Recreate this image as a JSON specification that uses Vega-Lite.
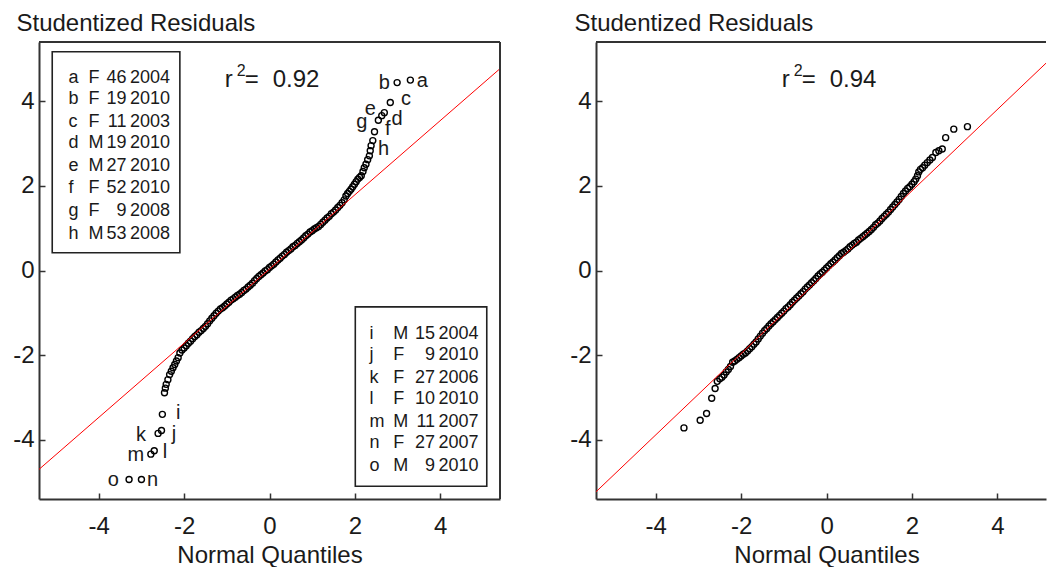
{
  "$schema": "https://vega.github.io/schema/vega-lite/v6.json",
  "background": "white",
  "padding": {"left": 12, "top": 11, "right": 0, "bottom": 0},
  "config": {
    "font": "Liberation Sans",
    "view": {"stroke": null},
    "axis": {
      "grid": false,
      "domainColor": "#333333",
      "domainWidth": 2,
      "tickColor": "#333333",
      "tickWidth": 1.5,
      "tickSize": -6,
      "labelFont": "Liberation Sans",
      "labelFontSize": 24,
      "labelColor": "#1a1a1a",
      "labelExpr": "datum.value < 0 ? '-' + (-datum.value) : '' + datum.value",
      "titleFont": "Liberation Sans",
      "titleFontSize": 24,
      "titleFontWeight": "normal",
      "titleColor": "#1a1a1a"
    },
    "text": {"font": "Liberation Sans", "color": "#1a1a1a"}
  },
  "datasets": {
    "ptsL": [
      {"q":-3.29,"r":-4.94},{"q":-3.0,"r":-4.94},{"q":-2.78,"r":-4.34},{"q":-2.7,"r":-4.26},{"q":-2.61,"r":-3.85},{"q":-2.53,"r":-3.78},{"q":-2.51,"r":-3.4},
      {"q":-2.46,"r":-2.89},{"q":-2.44,"r":-2.78},{"q":-2.42,"r":-2.69},{"q":-2.38,"r":-2.58},{"q":-2.34,"r":-2.46},{"q":-2.3,"r":-2.38},{"q":-2.26,"r":-2.3},{"q":-2.22,"r":-2.22},{"q":-2.18,"r":-2.14},{"q":-2.14,"r":-2.06},
      {"q":-2.1,"r":-1.95},{"q":-2.05,"r":-1.88},{"q":-2.0,"r":-1.83},{"q":-1.95,"r":-1.78},{"q":-1.9,"r":-1.72},{"q":-1.85,"r":-1.67},{"q":-1.8,"r":-1.61},{"q":-1.75,"r":-1.56},{"q":-1.7,"r":-1.52},{"q":-1.65,"r":-1.46},
      {"q":-1.6,"r":-1.42},{"q":-1.55,"r":-1.37},{"q":-1.5,"r":-1.32},{"q":-1.45,"r":-1.26},{"q":-1.4,"r":-1.19},{"q":-1.35,"r":-1.13},{"q":-1.3,"r":-1.07},{"q":-1.25,"r":-1.01},{"q":-1.2,"r":-0.96},{"q":-1.15,"r":-0.91},
      {"q":-1.1,"r":-0.88},{"q":-1.05,"r":-0.84},{"q":-1.0,"r":-0.79},{"q":-0.95,"r":-0.75},{"q":-0.9,"r":-0.7},{"q":-0.85,"r":-0.67},{"q":-0.8,"r":-0.63},{"q":-0.75,"r":-0.59},{"q":-0.7,"r":-0.56},{"q":-0.65,"r":-0.52},
      {"q":-0.6,"r":-0.47},{"q":-0.55,"r":-0.44},{"q":-0.5,"r":-0.39},{"q":-0.45,"r":-0.35},{"q":-0.4,"r":-0.3},{"q":-0.35,"r":-0.24},{"q":-0.3,"r":-0.19},{"q":-0.25,"r":-0.14},{"q":-0.2,"r":-0.1},{"q":-0.15,"r":-0.06},
      {"q":-0.1,"r":-0.01},{"q":-0.05,"r":0.02},{"q":0.0,"r":0.07},{"q":0.05,"r":0.11},{"q":0.1,"r":0.15},{"q":0.15,"r":0.2},{"q":0.2,"r":0.25},{"q":0.25,"r":0.29},{"q":0.3,"r":0.34},{"q":0.35,"r":0.38},
      {"q":0.4,"r":0.43},{"q":0.45,"r":0.47},{"q":0.5,"r":0.51},{"q":0.55,"r":0.56},{"q":0.6,"r":0.59},{"q":0.65,"r":0.64},{"q":0.7,"r":0.68},{"q":0.75,"r":0.72},{"q":0.8,"r":0.77},{"q":0.85,"r":0.82},
      {"q":0.9,"r":0.86},{"q":0.95,"r":0.91},{"q":1.0,"r":0.94},{"q":1.05,"r":0.98},{"q":1.1,"r":1.01},{"q":1.15,"r":1.04},{"q":1.2,"r":1.09},{"q":1.25,"r":1.14},{"q":1.3,"r":1.19},{"q":1.35,"r":1.24},
      {"q":1.4,"r":1.28},{"q":1.45,"r":1.34},{"q":1.5,"r":1.38},{"q":1.55,"r":1.43},{"q":1.6,"r":1.49},{"q":1.65,"r":1.54},{"q":1.7,"r":1.6},{"q":1.75,"r":1.67},
      {"q":1.79,"r":1.76},{"q":1.83,"r":1.82},{"q":1.87,"r":1.87},{"q":1.91,"r":1.92},{"q":1.95,"r":1.98},{"q":1.99,"r":2.04},{"q":2.03,"r":2.1},{"q":2.07,"r":2.16},{"q":2.11,"r":2.2},{"q":2.15,"r":2.24},
      {"q":2.19,"r":2.34},{"q":2.22,"r":2.43},{"q":2.26,"r":2.51},{"q":2.3,"r":2.62},{"q":2.34,"r":2.71},{"q":2.36,"r":2.83},{"q":2.38,"r":2.95},{"q":2.42,"r":3.07},{"q":2.46,"r":3.28},{"q":2.55,"r":3.55},
      {"q":2.63,"r":3.66},{"q":2.69,"r":3.73},{"q":2.83,"r":3.97},{"q":2.99,"r":4.44},{"q":3.3,"r":4.5}
    ],
    "ptsR": [
      {"q":-3.34,"r":-3.72},{"q":-2.96,"r":-3.54},{"q":-2.81,"r":-3.38},{"q":-2.69,"r":-3.02},{"q":-2.61,"r":-2.79},{"q":-2.56,"r":-2.62},{"q":-2.5,"r":-2.56},{"q":-2.45,"r":-2.52},{"q":-2.4,"r":-2.47},{"q":-2.35,"r":-2.4},{"q":-2.3,"r":-2.34},{"q":-2.25,"r":-2.27},
      {"q":-2.2,"r":-2.17},{"q":-2.15,"r":-2.14},{"q":-2.1,"r":-2.1},{"q":-2.05,"r":-2.06},{"q":-2.0,"r":-2.02},{"q":-1.95,"r":-1.98},{"q":-1.9,"r":-1.95},{"q":-1.85,"r":-1.9},{"q":-1.8,"r":-1.85},{"q":-1.75,"r":-1.8},
      {"q":-1.7,"r":-1.74},{"q":-1.65,"r":-1.69},{"q":-1.6,"r":-1.62},{"q":-1.55,"r":-1.55},{"q":-1.5,"r":-1.48},{"q":-1.45,"r":-1.42},{"q":-1.4,"r":-1.37},{"q":-1.35,"r":-1.31},{"q":-1.3,"r":-1.26},{"q":-1.25,"r":-1.21},
      {"q":-1.2,"r":-1.16},{"q":-1.15,"r":-1.11},{"q":-1.1,"r":-1.06},{"q":-1.05,"r":-1.01},{"q":-1.0,"r":-0.96},{"q":-0.95,"r":-0.9},{"q":-0.9,"r":-0.86},{"q":-0.85,"r":-0.81},{"q":-0.8,"r":-0.75},{"q":-0.75,"r":-0.7},
      {"q":-0.7,"r":-0.65},{"q":-0.65,"r":-0.6},{"q":-0.6,"r":-0.55},{"q":-0.55,"r":-0.5},{"q":-0.5,"r":-0.44},{"q":-0.45,"r":-0.39},{"q":-0.4,"r":-0.34},{"q":-0.35,"r":-0.29},{"q":-0.3,"r":-0.24},{"q":-0.25,"r":-0.19},
      {"q":-0.2,"r":-0.13},{"q":-0.15,"r":-0.08},{"q":-0.1,"r":-0.04},{"q":-0.05,"r":0.01},{"q":0.0,"r":0.06},{"q":0.05,"r":0.11},{"q":0.1,"r":0.16},{"q":0.15,"r":0.2},{"q":0.2,"r":0.25},{"q":0.25,"r":0.3},
      {"q":0.3,"r":0.35},{"q":0.35,"r":0.4},{"q":0.4,"r":0.43},{"q":0.45,"r":0.47},{"q":0.5,"r":0.51},{"q":0.55,"r":0.56},{"q":0.6,"r":0.6},{"q":0.65,"r":0.64},{"q":0.7,"r":0.67},{"q":0.75,"r":0.72},
      {"q":0.8,"r":0.76},{"q":0.85,"r":0.8},{"q":0.9,"r":0.84},{"q":0.95,"r":0.88},{"q":1.0,"r":0.92},{"q":1.05,"r":0.97},{"q":1.1,"r":1.02},{"q":1.15,"r":1.08},{"q":1.2,"r":1.12},{"q":1.25,"r":1.17},
      {"q":1.3,"r":1.23},{"q":1.35,"r":1.28},{"q":1.4,"r":1.33},{"q":1.45,"r":1.38},{"q":1.5,"r":1.44},{"q":1.55,"r":1.5},{"q":1.6,"r":1.56},{"q":1.65,"r":1.62},{"q":1.7,"r":1.68},{"q":1.75,"r":1.75},
      {"q":1.8,"r":1.82},{"q":1.85,"r":1.88},{"q":1.9,"r":1.94},{"q":1.95,"r":1.98},{"q":2.0,"r":2.04},
      {"q":2.05,"r":2.1},{"q":2.09,"r":2.16},{"q":2.13,"r":2.24},{"q":2.16,"r":2.33},{"q":2.2,"r":2.39},{"q":2.25,"r":2.43},{"q":2.3,"r":2.49},{"q":2.36,"r":2.55},{"q":2.42,"r":2.61},{"q":2.48,"r":2.67},
      {"q":2.56,"r":2.79},{"q":2.63,"r":2.83},{"q":2.71,"r":2.87},{"q":2.79,"r":3.14},{"q":2.98,"r":3.34},{"q":3.3,"r":3.4}
    ],
    "fitL": [{"q":-5.4,"r":-4.7},{"q":5.4,"r":4.77}],
    "fitR": [{"q":-5.4,"r":-5.23},{"q":5.14,"r":4.9}],
    "annL": [{"q":-1.05,"r":4.34,"stat":"0.92"}],
    "annR": [{"q":-1.05,"r":4.34,"stat":"0.94"}],
    "labL": [
      {"id":"a","q":3.58,"r":4.47},{"id":"b","q":2.69,"r":4.42},{"id":"c","q":3.2,"r":4.05},{"id":"d","q":2.99,"r":3.57},
      {"id":"e","q":2.36,"r":3.82},{"id":"f","q":2.77,"r":3.35},{"id":"g","q":2.16,"r":3.5},{"id":"h","q":2.67,"r":2.86},
      {"id":"i","q":-2.14,"r":-3.37},{"id":"j","q":-2.24,"r":-3.86},{"id":"k","q":-3.01,"r":-3.88},{"id":"l","q":-2.45,"r":-4.29},
      {"id":"m","q":-3.13,"r":-4.37},{"id":"n","q":-2.74,"r":-4.96},{"id":"o","q":-3.66,"r":-4.96}
    ],
    "boxes": [
      {"q":-5.09,"q2":-2.1,"r":5.17,"r2":0.42},
      {"q":2.01,"q2":5.09,"r":-0.86,"r2":-5.1}
    ],
    "legA": [
      {"id":"a","sex":"F","age":"46","year":"2004","r":4.54},
      {"id":"b","sex":"F","age":"19","year":"2010","r":4.05},
      {"id":"c","sex":"F","age":"11","year":"2003","r":3.52},
      {"id":"d","sex":"M","age":"19","year":"2010","r":3.02},
      {"id":"e","sex":"M","age":"27","year":"2010","r":2.47},
      {"id":"f","sex":"F","age":"52","year":"2010","r":1.96},
      {"id":"g","sex":"F","age":"9","year":"2008","r":1.41},
      {"id":"h","sex":"M","age":"53","year":"2008","r":0.87}
    ],
    "legB": [
      {"id":"i","sex":"M","age":"15","year":"2004","r":-1.5},
      {"id":"j","sex":"F","age":"9","year":"2010","r":-1.99},
      {"id":"k","sex":"F","age":"27","year":"2006","r":-2.53},
      {"id":"l","sex":"F","age":"10","year":"2010","r":-3.04},
      {"id":"m","sex":"M","age":"11","year":"2007","r":-3.57},
      {"id":"n","sex":"F","age":"27","year":"2007","r":-4.08},
      {"id":"o","sex":"M","age":"9","year":"2010","r":-4.61}
    ]
  },
  "spacing": 96,
  "bounds": "flush",
  "hconcat": [
    {
      "width": 461,
      "height": 457,
      "layer": [
        {
          "data": {"name": "ptsL"},
          "mark": {"type": "point", "shape": "circle", "filled": false, "color": "#000000", "size": 36, "strokeWidth": 1.4, "opacity": 1},
          "encoding": {
            "x": {"field": "q", "type": "quantitative", "scale": {"domain": [-5.4, 5.4], "nice": false, "zero": false},
                  "axis": {"values": [-4, -2, 0, 2, 4], "title": "Normal Quantiles", "labelPadding": 21, "titleY": 63, "titleBaseline": "alphabetic"}},
            "y": {"field": "r", "type": "quantitative", "scale": {"domain": [-5.4, 5.4], "nice": false, "zero": false},
                  "axis": {"values": [-4, -2, 0, 2, 4], "title": "Studentized Residuals", "labelPadding": 11, "titleAngle": 0, "titleX": -23, "titleY": -12, "titleAlign": "left", "titleBaseline": "alphabetic"}}
          }
        },
        {
          "data": {"name": "fitL"},
          "mark": {"type": "line", "color": "#ff0000", "strokeWidth": 1, "clip": true},
          "encoding": {"x": {"field": "q", "type": "quantitative"}, "y": {"field": "r", "type": "quantitative"}}
        },
        {
          "data": {"name": "boxes"},
          "mark": {"type": "rect", "fillOpacity": 0, "stroke": "#222222", "strokeWidth": 1.6},
          "encoding": {"x": {"field": "q", "type": "quantitative"}, "x2": {"field": "q2"}, "y": {"field": "r", "type": "quantitative"}, "y2": {"field": "r2"}}
        },
        {
          "data": {"name": "legA"},
          "mark": {"type": "text", "fontSize": 18, "align": "left", "baseline": "middle"},
          "encoding": {"x": {"datum": -4.71}, "y": {"field": "r", "type": "quantitative"}, "text": {"field": "id"}}
        },
        {
          "data": {"name": "legA"},
          "mark": {"type": "text", "fontSize": 18, "align": "left", "baseline": "middle"},
          "encoding": {"x": {"datum": -4.24}, "y": {"field": "r", "type": "quantitative"}, "text": {"field": "sex"}}
        },
        {
          "data": {"name": "legA"},
          "mark": {"type": "text", "fontSize": 18, "align": "right", "baseline": "middle"},
          "encoding": {"x": {"datum": -3.35}, "y": {"field": "r", "type": "quantitative"}, "text": {"field": "age"}}
        },
        {
          "data": {"name": "legA"},
          "mark": {"type": "text", "fontSize": 18, "align": "left", "baseline": "middle"},
          "encoding": {"x": {"datum": -3.27}, "y": {"field": "r", "type": "quantitative"}, "text": {"field": "year"}}
        },
        {
          "data": {"name": "legB"},
          "mark": {"type": "text", "fontSize": 18, "align": "left", "baseline": "middle"},
          "encoding": {"x": {"datum": 2.34}, "y": {"field": "r", "type": "quantitative"}, "text": {"field": "id"}}
        },
        {
          "data": {"name": "legB"},
          "mark": {"type": "text", "fontSize": 18, "align": "left", "baseline": "middle"},
          "encoding": {"x": {"datum": 2.9}, "y": {"field": "r", "type": "quantitative"}, "text": {"field": "sex"}}
        },
        {
          "data": {"name": "legB"},
          "mark": {"type": "text", "fontSize": 18, "align": "right", "baseline": "middle"},
          "encoding": {"x": {"datum": 3.88}, "y": {"field": "r", "type": "quantitative"}, "text": {"field": "age"}}
        },
        {
          "data": {"name": "legB"},
          "mark": {"type": "text", "fontSize": 18, "align": "left", "baseline": "middle"},
          "encoding": {"x": {"datum": 3.96}, "y": {"field": "r", "type": "quantitative"}, "text": {"field": "year"}}
        },
        {
          "data": {"name": "labL"},
          "mark": {"type": "text", "fontSize": 20, "align": "center", "baseline": "middle"},
          "encoding": {"x": {"field": "q", "type": "quantitative"}, "y": {"field": "r", "type": "quantitative"}, "text": {"field": "id"}}
        },
        {
          "data": {"name": "annL"},
          "mark": {"type": "text", "fontSize": 24, "align": "left", "baseline": "alphabetic"},
          "encoding": {"x": {"field": "q", "type": "quantitative"}, "y": {"field": "r", "type": "quantitative"}, "text": {"value": "r"}}
        },
        {
          "data": {"name": "annL"},
          "mark": {"type": "text", "fontSize": 16, "align": "left", "baseline": "alphabetic", "dx": 12, "dy": -11},
          "encoding": {"x": {"field": "q", "type": "quantitative"}, "y": {"field": "r", "type": "quantitative"}, "text": {"value": "2"}}
        },
        {
          "data": {"name": "annL"},
          "mark": {"type": "text", "fontSize": 24, "align": "left", "baseline": "alphabetic", "dx": 20},
          "encoding": {"x": {"field": "q", "type": "quantitative"}, "y": {"field": "r", "type": "quantitative"}, "text": {"value": "="}}
        },
        {
          "data": {"name": "annL"},
          "mark": {"type": "text", "fontSize": 24, "align": "left", "baseline": "alphabetic", "dx": 48},
          "encoding": {"x": {"field": "q", "type": "quantitative"}, "y": {"field": "r", "type": "quantitative"}, "text": {"field": "stat"}}
        },
        {
          "data": {"values": [{}]},
          "mark": {"type": "rule", "color": "#333333", "strokeWidth": 2},
          "encoding": {"y": {"datum": 5.4}}
        },
        {
          "data": {"values": [{}]},
          "mark": {"type": "rule", "color": "#333333", "strokeWidth": 2},
          "encoding": {"x": {"datum": 5.4}}
        }
      ]
    },
    {
      "width": 450,
      "height": 457,
      "layer": [
        {
          "data": {"name": "ptsR"},
          "mark": {"type": "point", "shape": "circle", "filled": false, "color": "#000000", "size": 36, "strokeWidth": 1.4, "opacity": 1},
          "encoding": {
            "x": {"field": "q", "type": "quantitative", "scale": {"domain": [-5.4, 5.14], "nice": false, "zero": false},
                  "axis": {"values": [-4, -2, 0, 2, 4], "title": "Normal Quantiles", "labelPadding": 21, "titleX": 230.5, "titleAlign": "center", "titleY": 63, "titleBaseline": "alphabetic"}},
            "y": {"field": "r", "type": "quantitative", "scale": {"domain": [-5.4, 5.4], "nice": false, "zero": false},
                  "axis": {"values": [-4, -2, 0, 2, 4], "title": "Studentized Residuals", "labelPadding": 11, "titleAngle": 0, "titleX": -22, "titleY": -12, "titleAlign": "left", "titleBaseline": "alphabetic"}}
          }
        },
        {
          "data": {"name": "fitR"},
          "mark": {"type": "line", "color": "#ff0000", "strokeWidth": 1, "clip": true},
          "encoding": {"x": {"field": "q", "type": "quantitative"}, "y": {"field": "r", "type": "quantitative"}}
        },
        {
          "data": {"name": "annR"},
          "mark": {"type": "text", "fontSize": 24, "align": "left", "baseline": "alphabetic"},
          "encoding": {"x": {"field": "q", "type": "quantitative"}, "y": {"field": "r", "type": "quantitative"}, "text": {"value": "r"}}
        },
        {
          "data": {"name": "annR"},
          "mark": {"type": "text", "fontSize": 16, "align": "left", "baseline": "alphabetic", "dx": 12, "dy": -11},
          "encoding": {"x": {"field": "q", "type": "quantitative"}, "y": {"field": "r", "type": "quantitative"}, "text": {"value": "2"}}
        },
        {
          "data": {"name": "annR"},
          "mark": {"type": "text", "fontSize": 24, "align": "left", "baseline": "alphabetic", "dx": 20},
          "encoding": {"x": {"field": "q", "type": "quantitative"}, "y": {"field": "r", "type": "quantitative"}, "text": {"value": "="}}
        },
        {
          "data": {"name": "annR"},
          "mark": {"type": "text", "fontSize": 24, "align": "left", "baseline": "alphabetic", "dx": 48},
          "encoding": {"x": {"field": "q", "type": "quantitative"}, "y": {"field": "r", "type": "quantitative"}, "text": {"field": "stat"}}
        },
        {
          "data": {"values": [{}]},
          "mark": {"type": "rule", "color": "#333333", "strokeWidth": 2},
          "encoding": {"y": {"datum": 5.4}}
        }
      ]
    }
  ]
}
